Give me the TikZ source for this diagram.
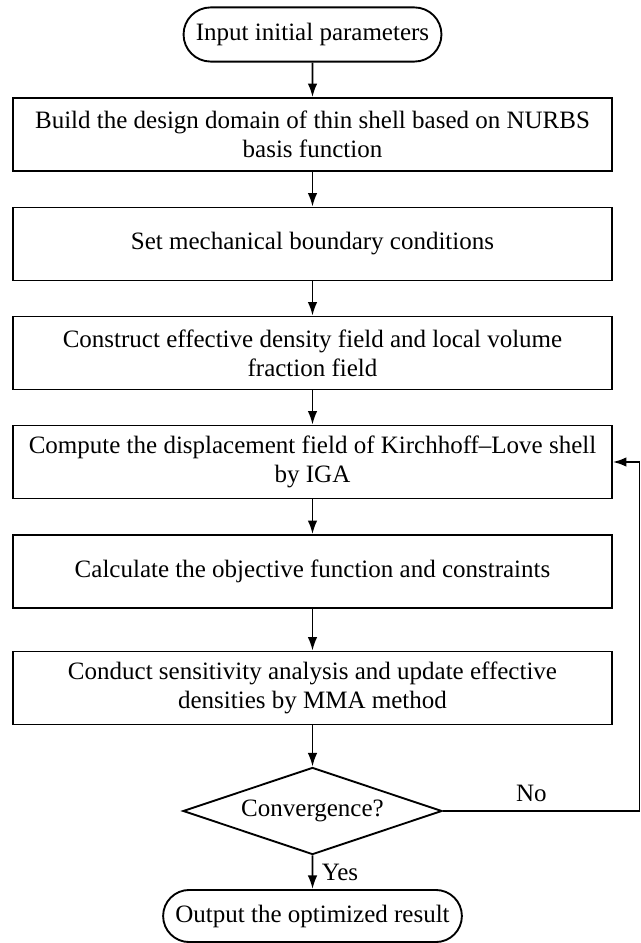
\documentclass[tikz,border=0pt]{standalone}
\usepackage{fontspec}
\setmainfont{Liberation Serif}
\usetikzlibrary{shapes.geometric,shapes.misc,arrows.meta}
\tikzset{
  stepbox/.style={draw,line width=0.9pt,align=center,minimum width=287.5pt,minimum height=35pt,inner sep=1pt},
  term/.style={draw,line width=0.9pt,rounded rectangle,minimum height=26pt,inner sep=1pt},
  decide/.style={draw,line width=0.9pt,diamond,aspect=3,minimum width=124.3pt,minimum height=41.8pt,inner sep=1pt},
  flow/.style={line width=0.9pt,-{Latex[length=6.5pt,width=4.6pt]}}
}
\begin{document}
\begin{tikzpicture}[x=0.48pt,y=-0.48pt]
    \fontsize{12pt}{14pt}\selectfont
    \useasboundingbox (0,0) rectangle (640,943);
    \node[term,minimum width=125.8pt] (T0) at (312.5,34.5) {Input initial parameters};
    \node[stepbox] (B1) at (312.5,134.5) {Build the design domain of thin shell based on NURBS\\basis function};
    \node[stepbox] (B2) at (312.5,244) {Set mechanical boundary conditions};
    \node[stepbox] (B3) at (312.5,353) {Construct effective density field and local volume\\fraction field};
    \node[stepbox] (B4) at (312.5,462) {Compute the displacement field of Kirchhoff--Love shell\\by IGA};
    \node[stepbox] (B5) at (312.5,571.5) {Calculate the objective function and constraints};
    \node[stepbox] (B6) at (312.5,688) {Conduct sensitivity analysis and update effective\\densities by MMA method};
    \node[decide] (C) at (312.5,811) {Convergence?};
    \node[term,minimum width=145.4pt,minimum height=25pt] (T1) at (312.5,916) {Output the optimized result};
    \coordinate (R) at (639.5,811);

    \draw[flow]
    (T0) edge (B1)
    (B1) edge (B2)
    (B2) edge (B3)
    (B3) edge (B4)
    (B4) edge (B5)
    (B5) edge (B6)
    (B6) edge (C)
    (C) edge node[right] {Yes} (T1);
    \draw[flow]
    (C.east) -- node[above,pos=0.45] {No} (R) |- (B4.east);
  \end{tikzpicture}
\end{document}
